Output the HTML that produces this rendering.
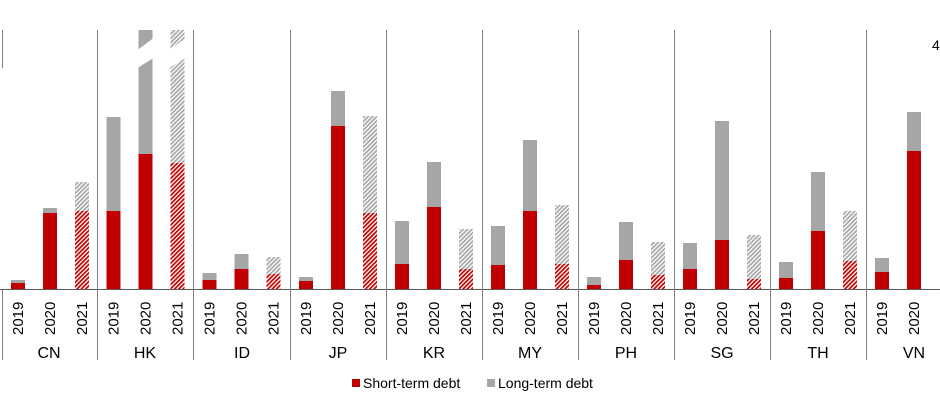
<!DOCTYPE html>
<html><head><meta charset="utf-8"><style>
html,body{margin:0;padding:0;background:#fff;}
svg{display:block;font-family:"Liberation Sans",Arial,sans-serif;}
</style></head><body>
<svg id="s" width="940" height="400" viewBox="0 0 940 400" xmlns="http://www.w3.org/2000/svg">
<defs>
<pattern id="hr" patternUnits="userSpaceOnUse" width="3" height="3" patternTransform="rotate(45)">
<rect width="3" height="3" fill="#fff"/><rect width="1.7" height="3" fill="#c00000"/></pattern>
<pattern id="hg" patternUnits="userSpaceOnUse" width="3" height="3" patternTransform="rotate(45)">
<rect width="3" height="3" fill="#fff"/><rect width="1.7" height="3" fill="#a6a6a6"/></pattern>
</defs>
<g id="bars"></g>
<line x1="0" y1="289.5" x2="940" y2="289.5" stroke="#595959" stroke-width="1"/>
<g stroke="#7f7f7f" stroke-width="1">
<line x1="2.5" y1="30" x2="2.5" y2="68"/><line x1="2.5" y1="289" x2="2.5" y2="360"/>
<line x1="97.5" y1="30" x2="97.5" y2="360"/><line x1="193.5" y1="30" x2="193.5" y2="360"/>
<line x1="290.5" y1="30" x2="290.5" y2="360"/><line x1="386.5" y1="30" x2="386.5" y2="360"/>
<line x1="482.5" y1="30" x2="482.5" y2="360"/><line x1="578.5" y1="30" x2="578.5" y2="360"/>
<line x1="674.5" y1="30" x2="674.5" y2="360"/><line x1="770.5" y1="30" x2="770.5" y2="360"/>
<line x1="866.5" y1="30" x2="866.5" y2="360"/>
</g>
<g id="yrs" font-size="15" fill="#000"></g>
<g font-size="16" fill="#000" text-anchor="middle">
<text x="49" y="358">CN</text><text x="145" y="358">HK</text><text x="242" y="358">ID</text>
<text x="338" y="358">JP</text><text x="434" y="358">KR</text><text x="530" y="358">MY</text>
<text x="626" y="358">PH</text><text x="722" y="358">SG</text><text x="818" y="358">TH</text>
<text x="914" y="358">VN</text>
</g>
<text x="932" y="50" font-size="14">4</text>
<rect x="352" y="379" width="8" height="8" fill="#c00000"/>
<text x="363" y="388" font-size="14">Short-term debt</text>
<rect x="487" y="379" width="8" height="8" fill="#a6a6a6"/>
<text x="498" y="388" font-size="14">Long-term debt</text>
</svg>
<script>
var d=[[283,280,213,208,211,182],[211,117,154,30,163,30],[280,273,269,254,274,257],[281,277,126,91,213,116],
[264,221,207,162,269,229],[265,226,211,140,264,205],[285,277,260,222,275,242],[269,243,240,121,279,235],
[278,262,231,172,261,211],[272,258,151,112,null,null]];
var starts=[2,97.5,193.5,290,386,482,578,674,770,866];
var ns="http://www.w3.org/2000/svg",g=document.getElementById('bars'),yg=document.getElementById('yrs');
function r(x,y,w,h,f){var e=document.createElementNS(ns,'rect');e.setAttribute('x',x);e.setAttribute('y',y);e.setAttribute('width',w);e.setAttribute('height',h);e.setAttribute('fill',f);g.appendChild(e);}
function p(pts){var e=document.createElementNS(ns,'polygon');e.setAttribute('points',pts);e.setAttribute('fill','#fff');g.appendChild(e);}
var yrs=['2019','2020','2021'];
for(var i=0;i<10;i++){for(var j=0;j<3;j++){var red=d[i][j*2],gr=d[i][j*2+1];var cx=starts[i]+16+j*32;
if(red!==null){var x=cx-7,hat=j==2;
r(x,gr,14,red-gr,hat?'url(#hg)':'#a6a6a6');r(x,red,14,289-red,hat?'url(#hr)':'#c00000');
if(i==1&&j>0){p((x-1)+',50 '+(x+15)+',38 '+(x+15)+',58 '+(x-1)+',68');}}
if(!(i==9&&j==2)){var t=document.createElementNS(ns,'text');t.setAttribute('transform','translate('+(cx+5)+',335) rotate(-90)');t.textContent=yrs[j];yg.appendChild(t);}}}
</script>
</body></html>
